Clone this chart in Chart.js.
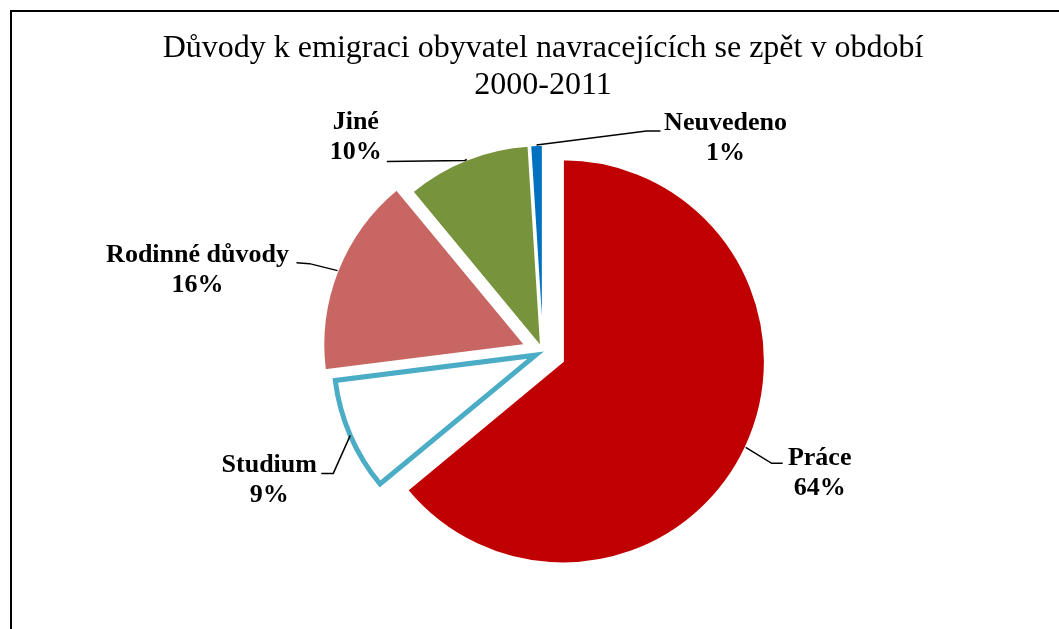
<!DOCTYPE html>
<html>
<head>
<meta charset="utf-8">
<script src="https://cdn.jsdelivr.net/npm/chart.js@4.4.0/dist/chart.umd.min.js"></script>
<style>
    html, body { margin: 0; padding: 0; background: #fff; overflow: hidden; }
    #frame { position: absolute; left: 10px; top: 10px; width: 1100px; height: 700px; border-top: 2px solid #000; border-left: 2px solid #000; }
    #wrap { position: absolute; left: 0; top: 0; width: 1059px; height: 629px; }
</style>
</head>
<body>
<div id="frame"></div>
<div id="wrap"><canvas id="pieChart"></canvas></div>
<script>
// data
const categories = ['Práce', 'Studium', 'Rodinné důvody', 'Jiné', 'Neuvedeno'];
const shares = [64, 9, 16, 10, 1];

// styles
const sliceColors = ['#C00000', '#FFFFFF', '#C76662', '#77933C', '#0070C0'];
const sliceBorders = ['#FFFFFF', '#4BACC6', '#FFFFFF', '#FFFFFF', '#FFFFFF'];
const sliceBorderWidths = [2, 5, 2, 2, 2];
// how far each slice is pulled out of the pie (px)
const explode = [22, 8, 19, 5, 5];
// label placement, relative to the middle of each slice's outer edge
const labelLayout = [
    { text: [74, 11], elbow: [26, 16], end: [37, 16] },
    { text: [-81, 30], elbow: [-17, 38], end: [-29, 38] },
    { text: [-140, -15], elbow: [-28, -7], end: [-41, -8] },
    { text: [-111, -37], elbow: [-2, 1], end: [-80, 2] },
    { text: [189, -22], elbow: [110, -14], end: [124, -14] }
];

const total = shares.reduce((a, b) => a + b, 0);

// pull slices out along their middle angle
const explodePlugin = {
    id: 'explode',
    afterDatasetUpdate(chart, args) {
        args.meta.data.forEach((arc, i) => {
            const mid = (arc.startAngle + arc.endAngle) / 2;
            arc.x += Math.cos(mid) * explode[i];
            arc.y += Math.sin(mid) * explode[i];
        });
    }
};

// category + percent labels with leader lines
const labelPlugin = {
    id: 'sliceLabels',
    afterDatasetsDraw(chart) {
        const ctx = chart.ctx;
        const arcs = chart.getDatasetMeta(0).data;
        ctx.save();
        arcs.forEach((arc, i) => {
            const mid = (arc.startAngle + arc.endAngle) / 2;
            const ax = arc.x + Math.cos(mid) * arc.outerRadius;
            const ay = arc.y + Math.sin(mid) * arc.outerRadius;
            const L = labelLayout[i];

            ctx.strokeStyle = '#000';
            ctx.lineWidth = 1.5;
            ctx.beginPath();
            ctx.moveTo(ax, ay);
            ctx.lineTo(ax + L.elbow[0], ay + L.elbow[1]);
            ctx.lineTo(ax + L.end[0], ay + L.end[1]);
            ctx.stroke();

            ctx.fillStyle = '#000';
            ctx.font = 'bold 26px "Liberation Serif", "Times New Roman", serif';
            ctx.textAlign = 'center';
            ctx.textBaseline = 'middle';
            const pct = Math.round(shares[i] / total * 100) + '%';
            ctx.fillText(categories[i], ax + L.text[0], ay + L.text[1]);
            ctx.fillText(pct, ax + L.text[0], ay + L.text[1] + 30);
        });
        ctx.restore();
    }
};

const pieChart = new Chart(document.getElementById('pieChart'), {
    type: 'pie',
    data: {
        labels: categories,
        datasets: [{
            data: shares,
            backgroundColor: sliceColors,
            borderColor: sliceBorders,
            borderWidth: sliceBorderWidths,
            borderJoinStyle: 'miter',
            radius: 202
        }]
    },
    options: {
        responsive: true,
        maintainAspectRatio: false,
        animation: false,
        events: [],
        layout: {
            padding: { left: 27, right: 0, top: 12, bottom: 28.6 }
        },
        plugins: {
            legend: { display: false },
            tooltip: { enabled: false },
            title: {
                display: true,
                text: ['Důvody k emigraci obyvatel navracejících se zpět v období', '2000-2011'],
                color: '#000',
                font: { family: '"Liberation Serif", "Times New Roman", serif', size: 32, weight: 'normal', lineHeight: 1.15 },
                padding: { top: 18, bottom: 0 }
            }
        }
    },
    plugins: [explodePlugin, labelPlugin]
});
</script>
</body>
</html>
